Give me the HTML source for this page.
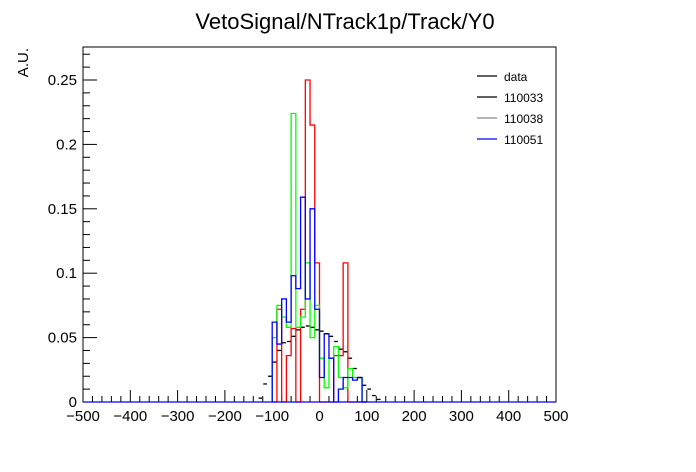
<!DOCTYPE html>
<html><head><meta charset="utf-8"><style>
body{margin:0;background:#fff;}
svg{display:block;font-family:"Liberation Sans",sans-serif;}
</style></head><body>
<svg id="chart" width="696" height="472">
<rect x="0" y="0" width="696" height="472" fill="#fff"/>
<text x="345" y="29" font-size="22" text-anchor="middle">VetoSignal/NTrack1p/Track/Y0</text>
<text x="0" y="0" font-size="15" text-anchor="end" transform="translate(28,48) rotate(-90)">A.U.</text>
<g id="plot"></g>
<g id="legend"></g>
</svg>
<script>
const binEdgesStart = -130; const binWidth = 10;
const dataVals = [0.003,0.014,0.020,0.031,0.040,0.046,0.047,0.051,0.056,0.058,0.059,0.058,0.056,0.055,0.053,0.051,0.047,0.041,0.039,0.034,0.026,0.019,0.013,0.010,0.005,0.002];
const s110033Start = -100;
const s110033 = [0,0.072,0,0.036,0.057,0,0.072,0.250,0.215,0.108,0,0,0,0.036,0.036,0.108,0,0,0,0];
const s110038Start = -100;
const s110038 = [0.050,0.075,0.066,0.058,0.224,0.058,0.066,0.108,0.050,0.075,0.034,0.011,0.034,0.043,0.019,0.011,0.026,0.019,0.019,0];
const s110051Start = -100;
const s110051 = [0.062,0.045,0.080,0.062,0.098,0.088,0.159,0.080,0.150,0.072,0.019,0.053,0.034,0,0.010,0.019,0.019,0.017,0.019,0];
const xTicks = [-500,-400,-300,-200,-100,0,100,200,300,400,500];
const yTicks = [0,0.05,0.1,0.15,0.2,0.25];
const yTickLabels = ["0","0.05","0.1","0.15","0.2","0.25"];

const L=83,R=556,T=47,B=402;
const X=v=>L+(v+500)/1000*(R-L);
const Y=v=>B-v*1288;
const NS="http://www.w3.org/2000/svg";
const plot=document.getElementById('plot');
function mk(tag,attrs,parent){const e=document.createElementNS(NS,tag);for(const k in attrs)e.setAttribute(k,attrs[k]);(parent||plot).appendChild(e);return e;}

const frame=mk('rect',{x:L,y:T,width:R-L,height:B-T,fill:'none',stroke:'#000','stroke-width':1});



for(let v=-500;v<=500;v+=20){
  const major=v%100===0;
  const t=mk('line',{x1:X(v),x2:X(v),y1:B,y2:B-(major?12:6),stroke:'#000'});
  
  
}
xTicks.forEach(v=>{
  const t=mk('text',{x:X(v),y:B+19,'font-size':15,'text-anchor':'middle'});
  t.textContent=v===0?'0':String(v).replace('-','\u2212');
  
  
});
for(let i=0;i<=27;i++){
  const v=i*0.01;const major=i%5===0;
  const t=mk('line',{x1:L,x2:L+(major?14:7),y1:Y(v),y2:Y(v),stroke:'#000'});
  
  
}
yTicks.forEach((v,i)=>{
  const t=mk('text',{x:L-6,y:Y(v)+5,'font-size':15,'text-anchor':'end'});
  t.textContent=yTickLabels[i];
  
  
});

function stepPath(start,vals,color,name){
  let d=`M${X(start)},${Y(0)}`;
  vals.forEach((v,i)=>{const x0=X(start+i*binWidth),x1=X(start+(i+1)*binWidth);d+=` L${x0},${Y(v)} L${x1},${Y(v)}`;});
  d+=` L${X(start+vals.length*binWidth)},${Y(0)}`;
  const p=mk('path',{d:d,fill:'none',stroke:color,'stroke-width':1.3});
  
  
}
stepPath(s110033Start,s110033,'#ff0000','series-110033');
stepPath(s110038Start,s110038,'#00ff00','series-110038');
stepPath(s110051Start,s110051,'#0000ff','series-110051');
const bl=mk('line',{x1:L,x2:R,y1:B,y2:B,stroke:'#0000ff','stroke-width':1.3});



dataVals.forEach((v,i)=>{
  const x0=X(binEdgesStart+i*binWidth),x1=X(binEdgesStart+(i+1)*binWidth);
  const m=mk('line',{x1:x0+0.5,x2:x1-0.5,y1:Y(v),y2:Y(v),stroke:'#000','stroke-width':1.3});
  
  
});

const lg=document.getElementById('legend');
const entries=[['data','#000'],['110033','#000'],['110038','#888'],['110051','#0000ff']];
entries.forEach((e,i)=>{
  const y=76+i*21;
  const l=mk('line',{x1:477,x2:497,y1:y,y2:y,stroke:e[1],'stroke-width':1.3},lg);
  
  
  const t=mk('text',{x:504,y:y+5,'font-size':12},lg);
  t.textContent=e[0];
  
  
});
</script>
</body></html>
